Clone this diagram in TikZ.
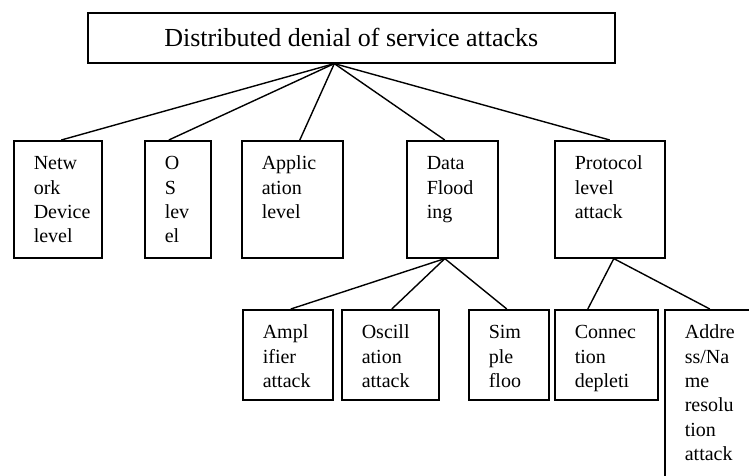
\documentclass[tikz,border=0pt]{standalone}
\usepackage{fontspec}
\setmainfont{Liberation Serif}
\newcommand{\boxtext}[3]{\parbox[c][#2][t]{#1}{\leftskip=20pt\rule{0pt}{29pt}#3}}
\tikzset{
	blk/.style={draw, line width=1.6pt, anchor=north west, inner sep=0pt, font=\fontsize{20pt}{24.3pt}\selectfont},
	link/.style={line width=1.4pt}
}
\begin{document}
\begin{tikzpicture}[x=1pt,y=-1pt]
	\clip (0,0) rectangle (749,475);
	\node[blk, minimum width=527pt, minimum height=50pt, font=\fontsize{26pt}{31pt}\selectfont] (top) at (87,12) {Distributed denial of service attacks};
	\coordinate (hub) at ([xshift=-17pt]top.south);
%	second row
	\node[blk] (net) at (13,140) {\boxtext{88pt}{117pt}{Netw\\ork\\Device\\level}};
	\node[blk] (os) at (144,140) {\boxtext{66pt}{117pt}{O\\S\\lev\\el}};
	\node[blk] (app) at (241,140) {\boxtext{101pt}{117pt}{Applic\\ation\\level}};
	\node[blk] (flood) at (406,140) {\boxtext{91pt}{117pt}{Data\\Flood\\ing}};
	\node[blk] (proto) at (554,140) {\boxtext{110pt}{117pt}{Protocol\\level\\attack}};
%	third row
	\node[blk] (ampl) at (242,309) {\boxtext{90pt}{90pt}{Ampl\\ifier\\attack}};
	\node[blk] (osc) at (341,309) {\boxtext{97pt}{90pt}{Oscill\\ation\\attack}};
	\node[blk] (simple) at (468,309) {\boxtext{80pt}{90pt}{Sim\\ple\\floo}};
	\node[blk] (conn) at (554,309) {\boxtext{103pt}{90pt}{Connec\\tion\\depleti}};
	\node[blk] (addr) at (664,309) {\boxtext{100pt}{200pt}{Addre\\ss/Na\\me\\resolu\\tion\\attack}};
	\draw[link] (hub) -- ([xshift=3.5pt]net.north);
	\draw[link] (hub) -- ([xshift=-9pt]os.north);
	\draw[link] (hub) -- ([xshift=7.5pt]app.north);
	\draw[link] (hub) -- ([xshift=-7.5pt]flood.north);
	\draw[link] (hub) -- (proto.north);
	\draw[link] ([xshift=-7.5pt]flood.south) -- ([xshift=3pt]ampl.north);
	\draw[link] ([xshift=-7.5pt]flood.south) -- ([xshift=1.5pt]osc.north);
	\draw[link] ([xshift=-7.5pt]flood.south) -- ([xshift=-2pt]simple.north);
	\draw[link] ([xshift=4pt]proto.south) -- ([xshift=-18.5pt]conn.north);
	\draw[link] ([xshift=4pt]proto.south) -- ([xshift=-5pt]addr.north);
\end{tikzpicture}
\end{document}
